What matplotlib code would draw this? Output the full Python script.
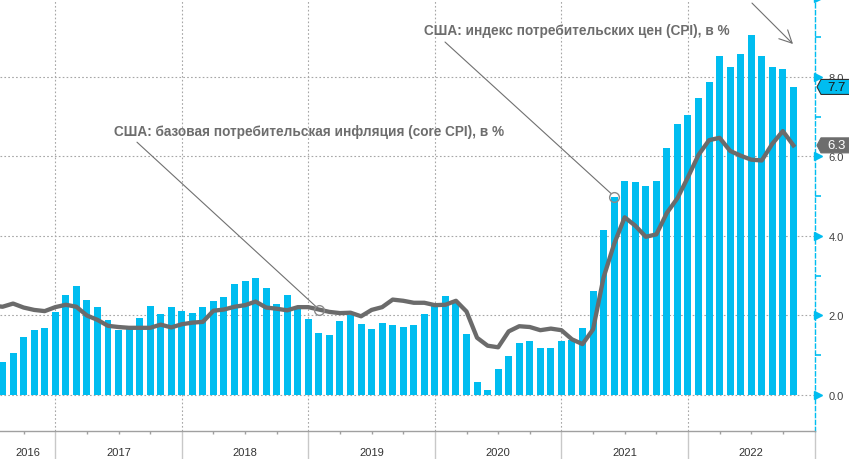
import matplotlib
matplotlib.use("Agg")
import matplotlib.pyplot as plt
import matplotlib.transforms as mtransforms
from matplotlib.patches import Polygon
import numpy as np

# ---- data (monthly, Jun 2016 .. Oct 2022), YoY %
months_start = (2016, 6)
cpi = [1.0, 0.84, 1.06, 1.46, 1.64, 1.69, 2.09,
       2.52, 2.74, 2.39, 2.21, 1.89, 1.64, 1.70, 1.94, 2.24, 2.04, 2.21, 2.11,
       2.07, 2.21, 2.36, 2.46, 2.80, 2.87, 2.95, 2.70, 2.28, 2.52, 2.18, 1.91,
       1.55, 1.52, 1.86, 2.00, 1.79, 1.65, 1.81, 1.75, 1.71, 1.76, 2.05, 2.29,
       2.49, 2.33, 1.54, 0.33, 0.12, 0.65, 0.99, 1.31, 1.37, 1.18, 1.17, 1.36,
       1.38, 1.68, 2.62, 4.16, 4.99, 5.39, 5.37, 5.25, 5.39, 6.22, 6.81, 7.04,
       7.48, 7.87, 8.54, 8.26, 8.58, 9.06, 8.52, 8.26, 8.20, 7.75]
core = [2.25, 2.22, 2.30, 2.20, 2.14, 2.11, 2.21,
        2.27, 2.22, 2.00, 1.89, 1.74, 1.71, 1.69, 1.69, 1.69, 1.77, 1.70, 1.78,
        1.82, 1.84, 2.12, 2.15, 2.22, 2.26, 2.35, 2.20, 2.17, 2.13, 2.21, 2.21,
        2.15, 2.09, 2.06, 2.07, 1.98, 2.14, 2.21, 2.40, 2.37, 2.32, 2.32, 2.26,
        2.27, 2.37, 2.10, 1.44, 1.24, 1.20, 1.60, 1.73, 1.71, 1.63, 1.67, 1.63,
        1.40, 1.28, 1.65, 2.96, 3.80, 4.47, 4.26, 3.98, 4.04, 4.58, 4.95, 5.48,
        6.04, 6.41, 6.47, 6.14, 6.02, 5.92, 5.90, 6.32, 6.64, 6.28]
years = [2016, 2017, 2018, 2019, 2020, 2021, 2022]
yticks = [0, 2, 4, 6, 8]
last_cpi_label = "7.7"
last_core_label = "6.3"
title_core = "США: базовая потребительская инфляция (core CPI), в %"
title_cpi = "США: индекс потребительских цен (CPI), в %"

# x positions: months since Jan 1 2016, value dated at month end
n = len(cpi)
x = np.array([months_start[1] + i for i in range(n)], dtype=float)

CYAN = "#00bdf0"
GRAY_LINE = "#6b6b6b"
GRID = "#a6a6a6"
TXT = "#6d6d6d"

fig = plt.figure(figsize=(8.49, 4.60), dpi=100)
ax = fig.add_axes([0, 28 / 460, 814.5 / 849, 433.5 / 460])
ax.set_xlim(6.76, 84)
ax.set_ylim(-0.906, 10.0)

ax.bar(x, cpi, width=0.66, color=CYAN, zorder=2)
ax.plot(x, core, color=GRAY_LINE, lw=3.1, zorder=3, solid_joinstyle="round")

# spines
for s in ("left", "top"):
    ax.spines[s].set_visible(False)
ax.spines["bottom"].set_color("#a0a0a0")
ax.spines["bottom"].set_linewidth(1.0)
ax.spines["right"].set_color(CYAN)
ax.spines["right"].set_linestyle((0, (3, 2)))
ax.spines["right"].set_linewidth(1.0)

# x axis: year boundaries + quarter ticks
bounds = [12 * (i + 1) for i in range(len(years))]
ax.set_xticks(bounds)
ax.set_xticklabels([])
ax.tick_params(axis="x", which="major", length=20, color="#c8c8c8", width=1)
quarters = [b + q for b in [0] + bounds[:-1] for q in (3, 6, 9)]
ax.set_xticks([q for q in quarters if q > 6.76], minor=True)
ax.tick_params(axis="x", which="minor", length=2, color="#a0a0a0", width=1)
ax.grid(axis="x", which="major", linestyle=(0, (1.5, 2)), color=GRID, lw=0.8, zorder=0)

xmin = ax.get_xlim()[0]
trans_xa = ax.get_xaxis_transform()
for i, yr in enumerate(years):
    a = max(12 * i, xmin)
    b = 12 * (i + 1)
    ax.text((a + b) / 2, -21 / 433.5, str(yr), transform=trans_xa, ha="center",
            va="center", fontsize=8, color="#333333", family="Liberation Sans")

# y axis on the right
ax.yaxis.tick_right()
ax.set_yticks(yticks)
ax.set_yticklabels([f"{v:.1f}" for v in yticks])
ax.set_yticks([1, 3, 5, 7, 9], minor=True)
ax.tick_params(axis="y", which="major", length=0, pad=10, labelsize=8,
               labelcolor="#404040")
ax.tick_params(axis="y", which="minor", length=4, color=CYAN, width=1.2)
for lab in ax.get_yticklabels():
    lab.set_family("Liberation Sans")
ax.grid(axis="y", which="major", linestyle=(0, (1.5, 2)), color=GRID, lw=0.8, zorder=0)

tri_trans = ax.get_yaxis_transform() + mtransforms.ScaledTranslation(3.0 / 100, 0, fig.dpi_scale_trans)
ax.plot([1.0] * (len(yticks) + 1), yticks + [10], linestyle="none", marker=">",
        ms=6, color=CYAN, transform=tri_trans, clip_on=False, zorder=5)

# value labels at the right
def value_tag(val, text, face, tcolor):
    t = fig.dpi_scale_trans + mtransforms.ScaledTranslation(1.0, val, ax.get_yaxis_transform())
    pts = np.array([[2.5, 0], [6.5, 7.5], [40, 7.5], [40, -7.5], [6.5, -7.5]]) / 100
    poly = Polygon(pts, closed=True, facecolor=face, edgecolor="#303030" if face == CYAN else face,
                   lw=0.8, transform=t, clip_on=False, zorder=6)
    fig.add_artist(poly)
    fig.text(0.13, 0, text, transform=t, ha="left", va="center", fontsize=9.5,
             color=tcolor, family="Liberation Sans", zorder=7)

value_tag(cpi[-1], last_cpi_label, CYAN, "#1a1a1a")
value_tag(core[-1], last_core_label, "#6d6d6d", "white")

# annotations
i_core = x.tolist().index(12 * 3 + 1)  # Jan 2019
i_cpi = x.tolist().index(12 * 5 + 5)   # May 2021
ax.plot([x[i_core]], [core[i_core]], marker="o", ms=7, mfc="none", mec="#8a8a8a",
        mew=1.0, zorder=6)
ax.plot([x[i_cpi]], [cpi[i_cpi]], marker="o", ms=7, mfc="none", mec="#8a8a8a",
        mew=1.0, zorder=6)
ax.annotate("", xy=(x[i_core] - 0.3, core[i_core] + 0.08), xytext=(19.75, 6.36),
            arrowprops=dict(arrowstyle="-", color="#707070", lw=0.8, shrinkA=0, shrinkB=0))
ax.annotate("", xy=(x[i_cpi] - 0.3, cpi[i_cpi] + 0.08), xytext=(48.96, 8.88),
            arrowprops=dict(arrowstyle="-", color="#707070", lw=0.8, shrinkA=0, shrinkB=0))
ax.text(17.6, 6.64, title_core, fontsize=9.8, fontweight="bold", color=TXT,
        family="Liberation Sans", va="center", ha="left", zorder=7)
ax.text(46.97, 9.19, title_cpi, fontsize=9.8, fontweight="bold", color=TXT,
        family="Liberation Sans", va="center", ha="left", zorder=7)
ax.annotate("", xy=(81.96, 8.83), xytext=(78.07, 9.86),
            arrowprops=dict(arrowstyle="->,head_length=0.9,head_width=0.45", color="#707070",
                            lw=0.8, shrinkA=0, shrinkB=0))

fig.savefig("out.png", dpi=100)
